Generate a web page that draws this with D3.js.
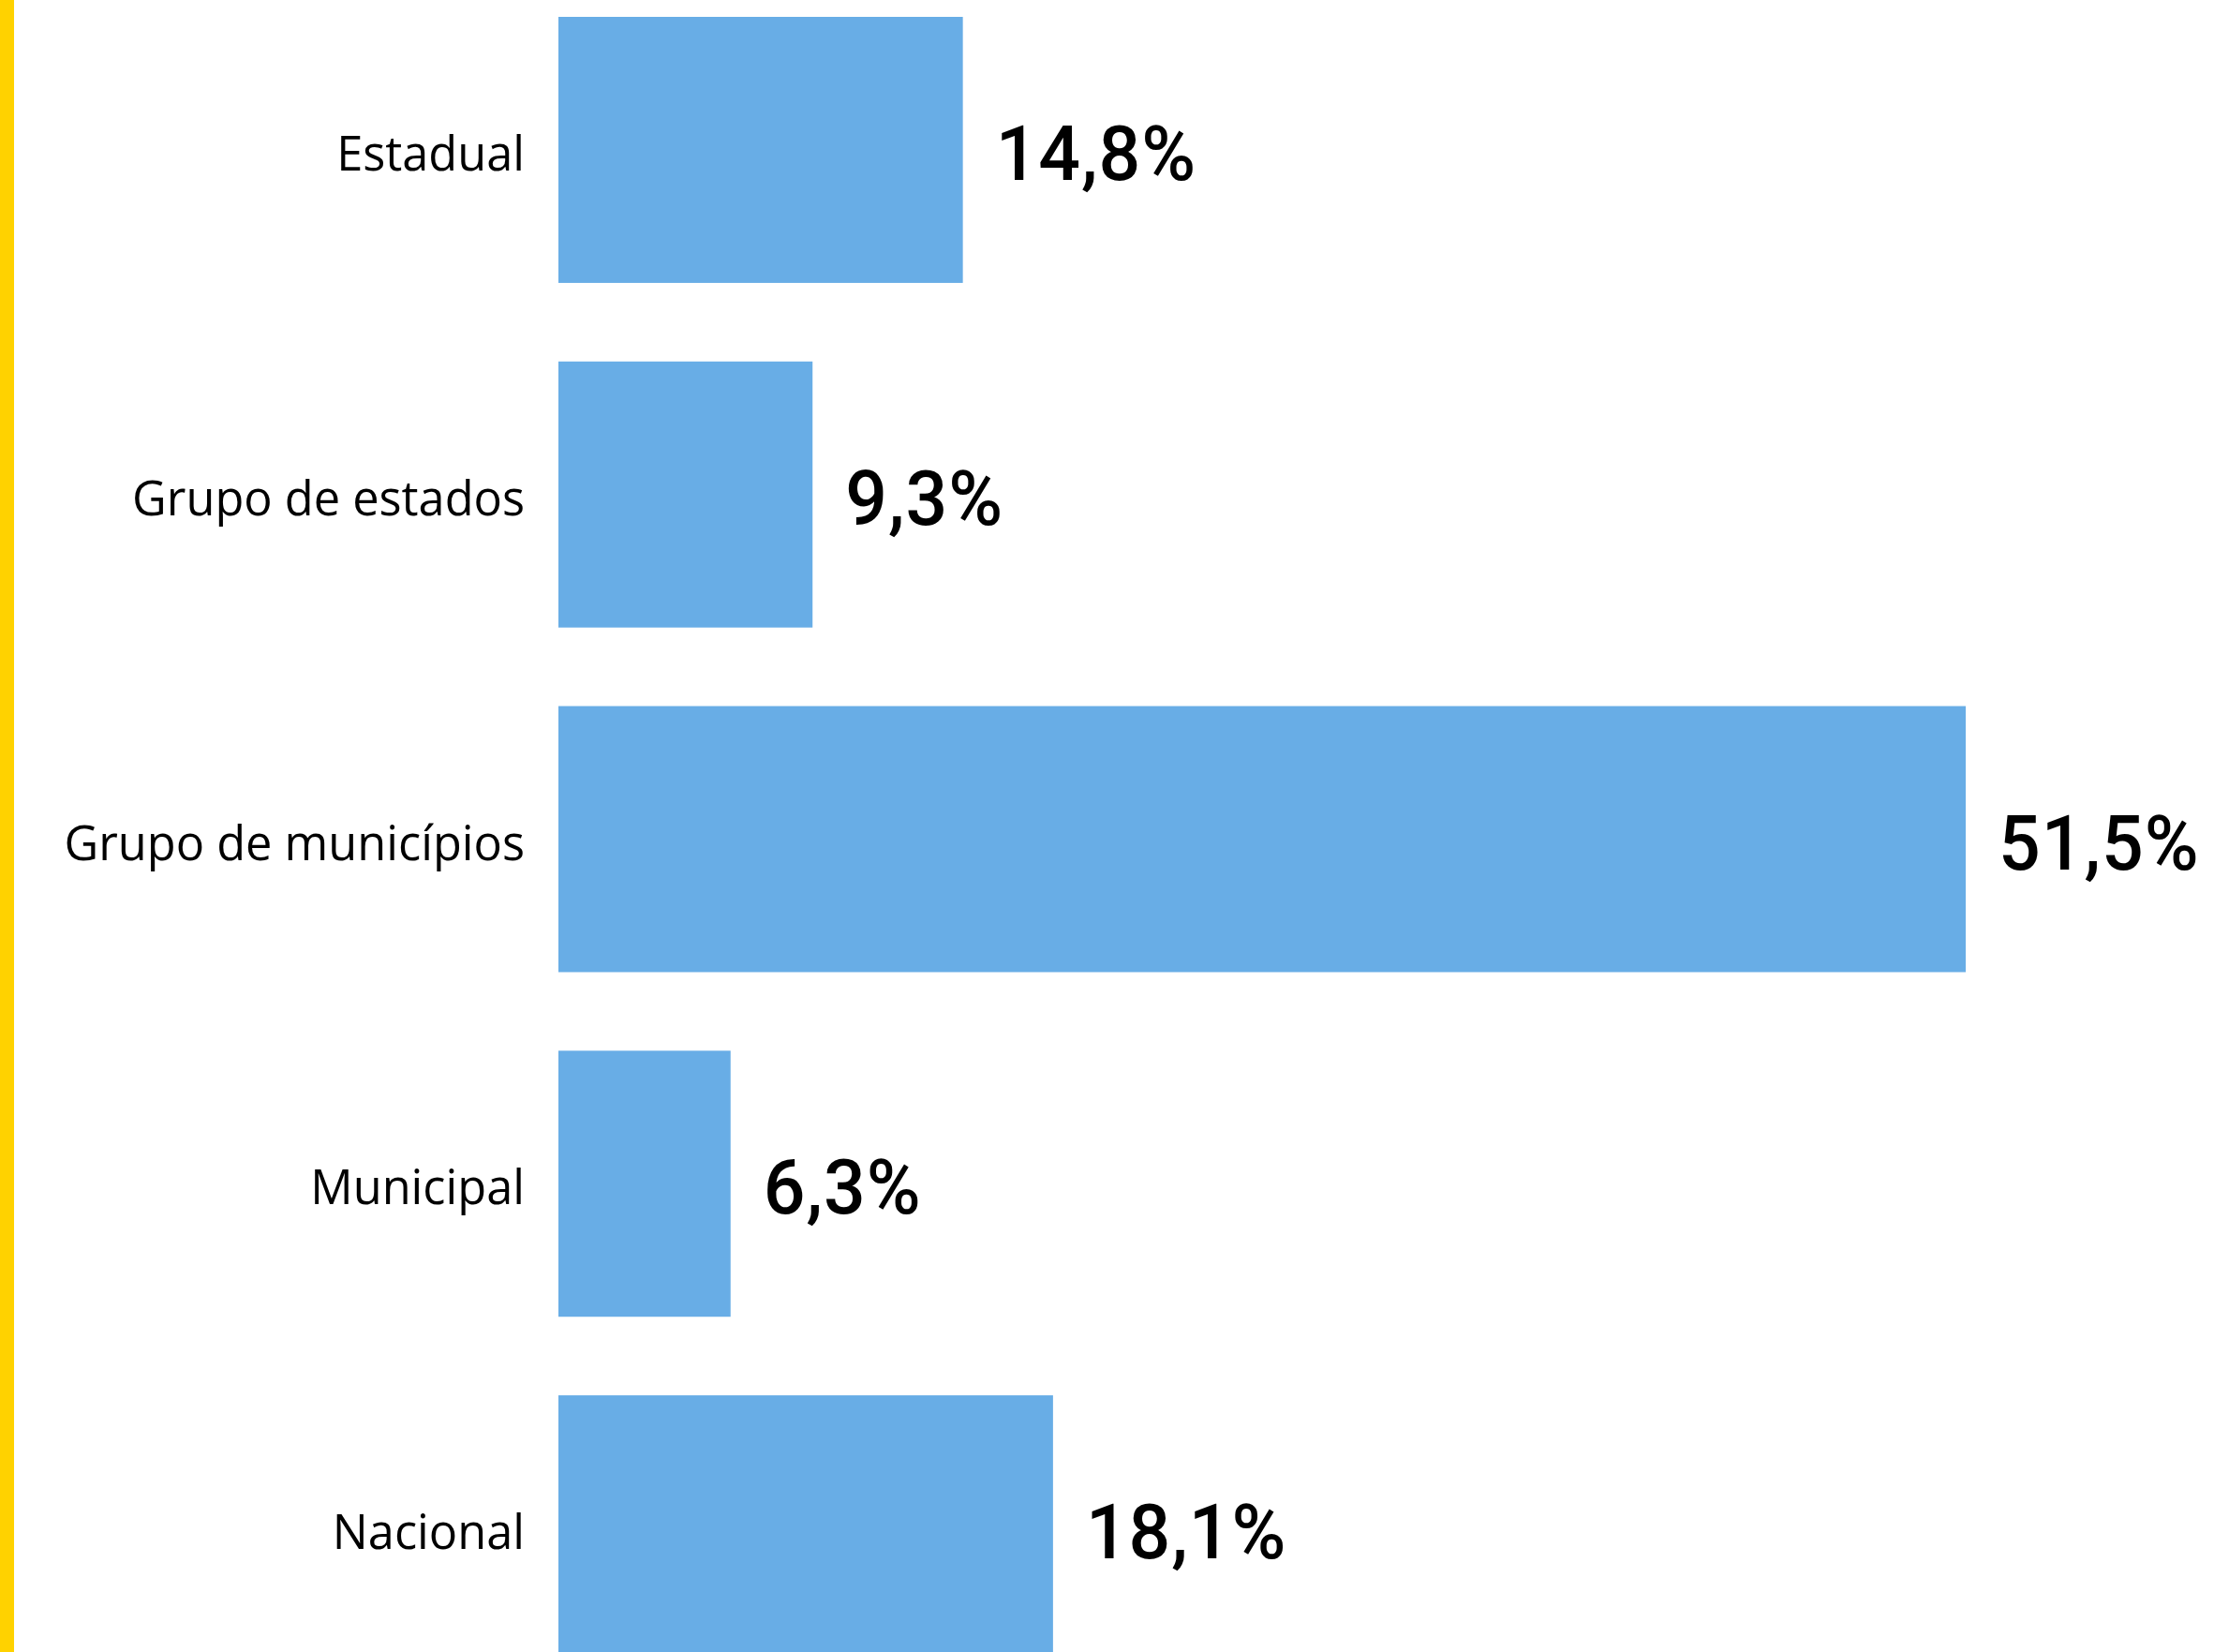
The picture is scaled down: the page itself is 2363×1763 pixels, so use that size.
<!DOCTYPE html>
<html>
<head>
<meta charset="utf-8">
<script src="https://cdn.jsdelivr.net/npm/d3@7"></script>
<style>
  html, body { margin: 0; padding: 0; background: #fff; }
  #chart { width: 2363px; height: 1763px; overflow: hidden; }
</style>
</head>
<body>
<div id="chart"></div>
<script>
// Categories and their shares (%)
const categories = ["Estadual", "Grupo de estados", "Grupo de municípios", "Municipal", "Nacional"];
const shares = [14.8, 9.3, 51.5, 6.3, 18.1];
const shareLabels = ["14,8%", "9,3%", "51,5%", "6,3%", "18,1%"];

const width = 2363;
const height = 1763;
const margin = { top: 18, left: 596 };

const data = categories.map((c, i) => ({ cat: c, value: shares[i], label: shareLabels[i] }));

const svg = d3.select("#chart")
  .append("svg")
  .attr("width", width)
  .attr("height", height)
  .attr("viewBox", [0, 0, width, height]);

// yellow stripe on the left edge
svg.append("rect")
  .attr("x", 0).attr("y", 0)
  .attr("width", 15).attr("height", height)
  .attr("fill", "#FFD200");

// 51,5% ends at x=2098
const x = d3.scaleLinear()
  .domain([0, 51.5])
  .range([margin.left, 2098]);

const y = d3.scaleBand()
  .domain(categories)
  .range([margin.top, margin.top + 1755])
  .paddingInner(0.228)
  .paddingOuter(0);

svg.append("g")
  .selectAll("rect")
  .data(data)
  .join("rect")
  .attr("x", x(0))
  .attr("y", (d) => y(d.cat))
  .attr("width", (d) => x(d.value) - x(0))
  .attr("height", y.bandwidth())
  .attr("fill", "#68ADE6");

// category labels
const yAxis = svg.append("g")
  .attr("transform", `translate(${x(0)}, 0)`)
  .call(d3.axisLeft(y).tickSize(0).tickPadding(36));
yAxis.select(".domain").remove();
yAxis.selectAll("text")
  .attr("dy", null)
  .attr("y", 22)
  .attr("font-family", "'Open Sans', 'Noto Sans', sans-serif")
  .attr("font-size", 50.5)
  .attr("fill", "#000");

// value labels
svg.append("g")
  .selectAll("text")
  .data(data)
  .join("text")
  .attr("transform", (d) => `translate(${x(d.value) + 35}, ${y(d.cat) + y.bandwidth() / 2 + 32}) scale(0.96, 1)`)
  .attr("font-family", "Roboto, sans-serif")
  .attr("font-weight", 500)
  .attr("font-size", 82)
  .attr("letter-spacing", 1)
  .attr("fill", "#000")
  .text((d) => d.label);
</script>
</body>
</html>
